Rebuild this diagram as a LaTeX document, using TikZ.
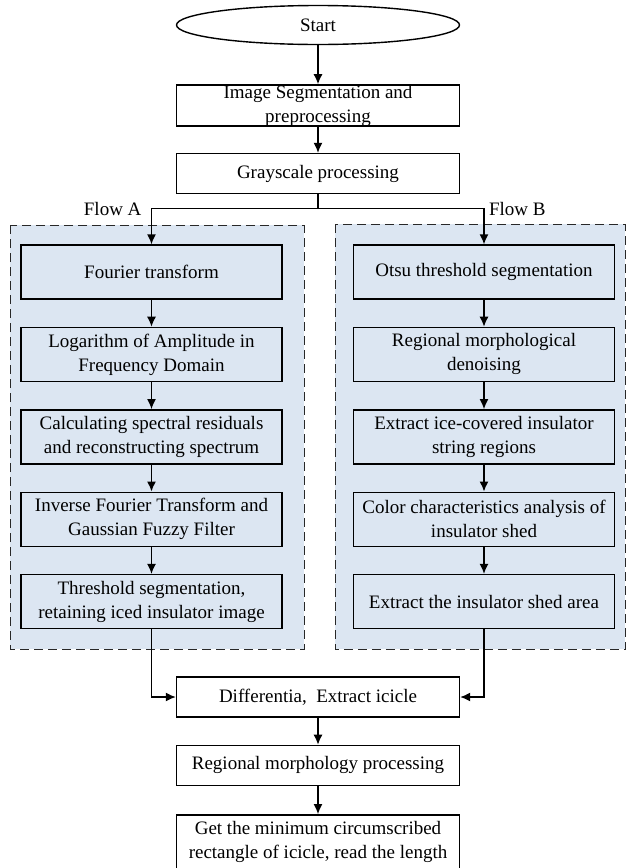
\documentclass[tikz,border=0pt]{standalone}
\usepackage{fontspec}
\setmainfont{Liberation Serif}
\usepackage{xcolor}
\usepackage{tikz}
\usetikzlibrary{shapes.geometric, arrows.meta, positioning, calc, backgrounds}

\definecolor{flowfill}{RGB}{220,230,242}
\definecolor{dashgray}{RGB}{40,40,40}

\begin{document}
\begin{tikzpicture}[x=1pt, y=1pt, line width=1.4pt, >={Latex[length=10pt,width=9pt]},
    every node/.style={font=\fontsize{19}{24}\selectfont, align=center},
    mainbox/.style={draw, rectangle, minimum width=283pt, minimum height=40pt, inner sep=1pt},
    flowbox/.style={draw, rectangle, minimum width=261pt, minimum height=54pt, inner sep=1pt, fill=flowfill},
    flowframe/.style={draw=dashgray, dash pattern=on 9pt off 5pt, fill=flowfill}]
    \useasboundingbox (0,0) rectangle (625,-868);

    % Main column
    \node[draw, ellipse, minimum width=283pt, minimum height=39pt, inner sep=0pt] (start) at (318,-25) {Start};
    \node[mainbox, minimum height=41pt, inner ysep=0pt, below=39pt of start] (seg) {Image Segmentation and\\preprocessing};
    \node[mainbox, below=26pt of seg] (gray) {Grayscale processing};

    % Flow A
    \node[flowbox] (fa1) at (151.5,-272) {Fourier transform};
    \node[flowbox, below=27pt of fa1] (fa2) {Logarithm of Amplitude in\\Frequency Domain};
    \node[flowbox, below=27pt of fa2] (fa3) {Calculating spectral residuals\\and reconstructing spectrum};
    \node[flowbox, below=27pt of fa3] (fa4) {Inverse Fourier Transform and\\Gaussian Fuzzy Filter};
    \node[flowbox, below=27pt of fa4] (fa5) {Threshold segmentation,\\retaining iced insulator image};

    % Flow B
    \node[flowbox] (fb1) at (484,-272) {Otsu threshold segmentation};
    \node[flowbox, below=27pt of fb1] (fb2) {Regional morphological\\denoising};
    \node[flowbox, below=27pt of fb2] (fb3) {Extract ice-covered insulator\\string regions};
    \node[flowbox, below=27pt of fb3] (fb4) {Color characteristics analysis of\\insulator shed};
    \node[flowbox, below=27pt of fb4] (fb5) {Extract the insulator shed area};

    % Dashed frames
    \begin{scope}[on background layer]
        \draw[flowframe] ($(fa1.north west)+(-10,19)$) rectangle ($(fa5.south east)+(21,-20)$);
        \draw[flowframe] ($(fb1.north west)+(-18,20)$) rectangle ($(fb5.south east)+(10,-20)$);
    \end{scope}

    % Merge and output
    \node[mainbox] (diff) at (318,-697) {Differentia,\ \ Extract icicle};
    \node[mainbox, below=27pt of diff] (morph) {Regional morphology processing};
    \node[mainbox, minimum height=54pt, below=28pt of morph] (rect) {Get the minimum circumscribed\\rectangle of icicle, read the length};

    % Arrows
    \draw[->] (start) -- (seg);
    \draw[->] (seg) -- (gray);
    \draw (gray.south) -- ++(0,-14.5) coordinate (split);
    \draw[->] (split) -| (fa1.north) coordinate[pos=0.5] (cornerA);
    \draw[->] (split) -| (fb1.north) coordinate[pos=0.5] (cornerB);
    \node[left=6pt of cornerA] (flowA) {Flow A};
    \node[right=1pt of cornerB] (flowB) {Flow B};
    \foreach \i [evaluate=\i as \j using int(\i+1)] in {1,...,4} {
        \draw[->] (fa\i) -- (fa\j);
        \draw[->] (fb\i) -- (fb\j);
    }
    \draw[->] (fa5.south) |- (diff.west);
    \draw[->] (fb5.south) |- (diff.east);
    \draw[->] (diff) -- (morph);
    \draw[->] (morph) -- (rect);
\end{tikzpicture}
\end{document}
